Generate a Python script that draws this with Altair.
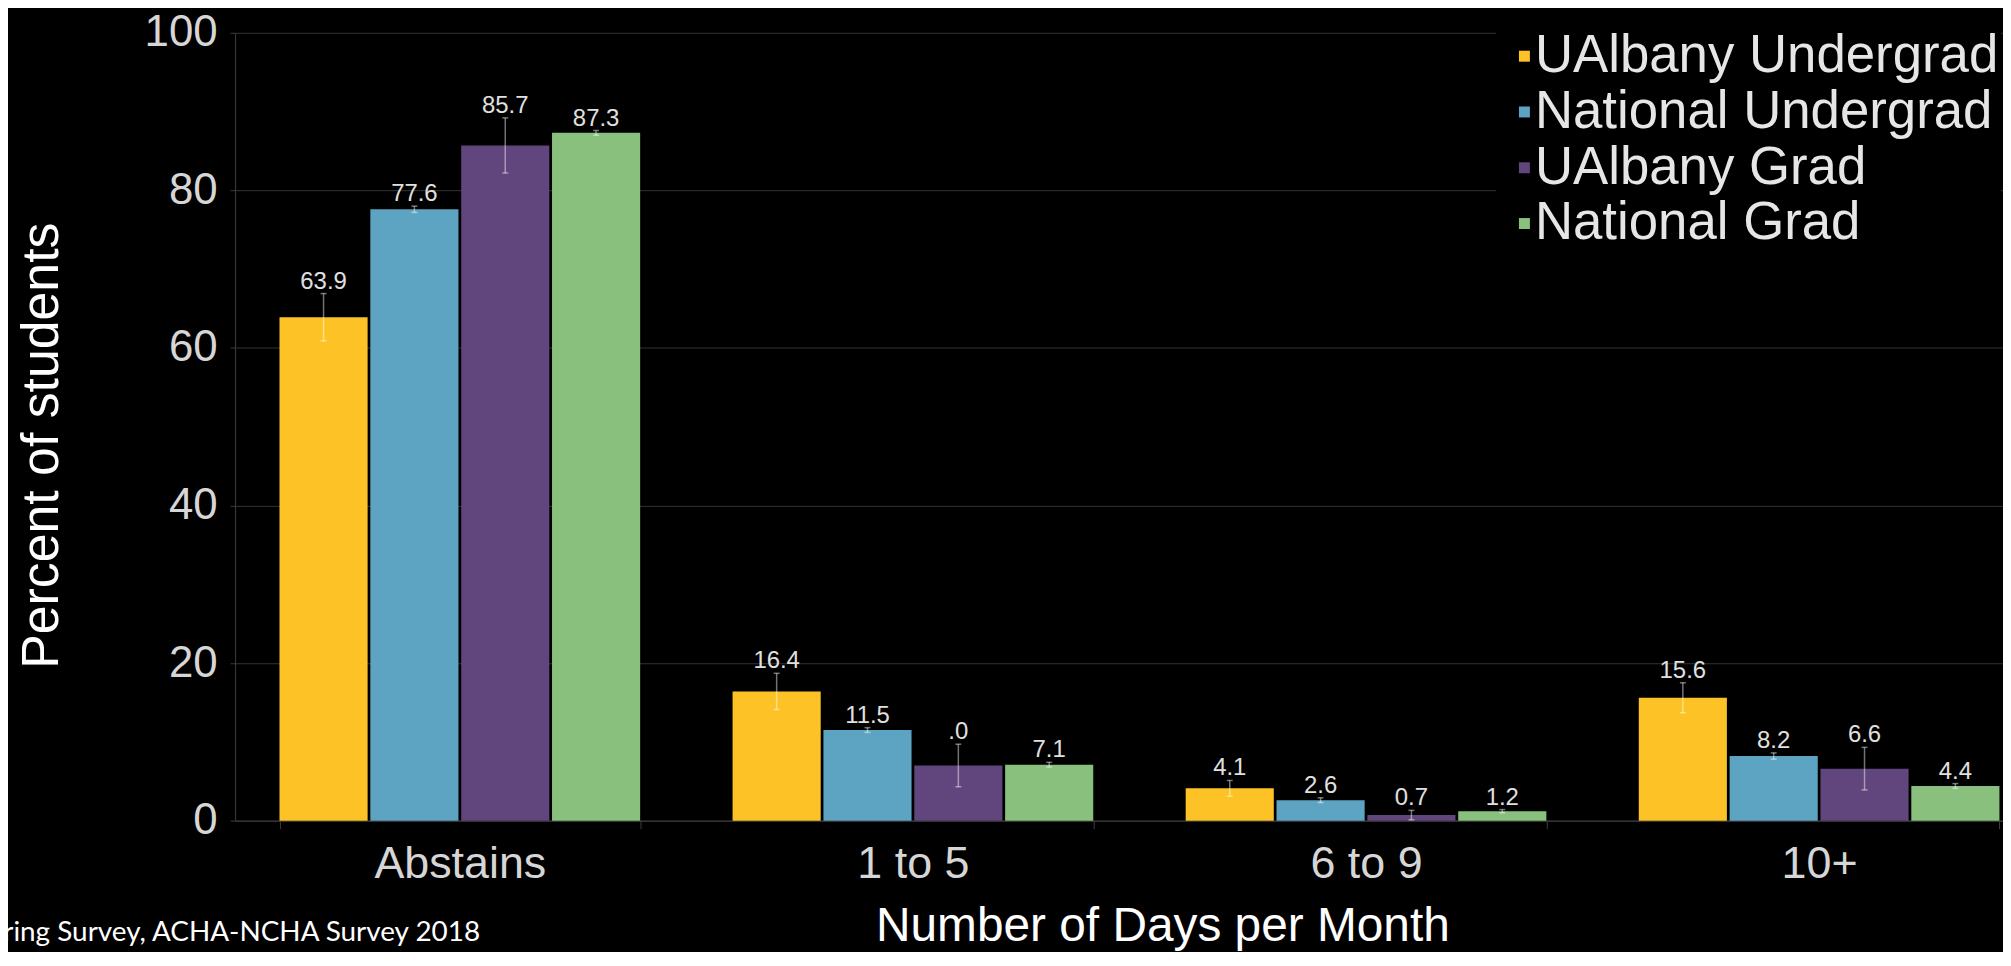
import altair as alt
import pandas as pd

categories = ["Abstains", "1 to 5", "6 to 9", "10+"]
groups = ["UAlbany Undergrad", "National Undergrad", "UAlbany Grad", "National Grad"]
colors = ["#FDC326", "#5CA4C2", "#60467C", "#89C07E"]

ualbany_ug = [63.9, 16.4, 4.1, 15.6]
national_ug = [77.6, 11.5, 2.6, 8.2]
ualbany_grad = [85.7, 7.0, 0.7, 6.6]
national_grad = [87.3, 7.1, 1.2, 4.4]

ualbany_ug_err = [3.0, 2.3, 1.0, 1.9]
national_ug_err = [0.4, 0.3, 0.3, 0.4]
ualbany_grad_err = [3.5, 2.7, 0.6, 2.7]
national_grad_err = [0.3, 0.3, 0.2, 0.3]

ualbany_ug_labels = ["63.9", "16.4", "4.1", "15.6"]
national_ug_labels = ["77.6", "11.5", "2.6", "8.2"]
ualbany_grad_labels = ["85.7", ".0", "0.7", "6.6"]
national_grad_labels = ["87.3", "7.1", "1.2", "4.4"]

y_ticks = [0, 20, 40, 60, 80, 100]
source_text = "ring Survey, ACHA-NCHA Survey 2018"

series = [
    (groups[0], ualbany_ug, ualbany_ug_err, ualbany_ug_labels),
    (groups[1], national_ug, national_ug_err, national_ug_labels),
    (groups[2], ualbany_grad, ualbany_grad_err, ualbany_grad_labels),
    (groups[3], national_grad, national_grad_err, national_grad_labels),
]
rows = []
for g, vals, errs, labs in series:
    for c, v, e, l in zip(categories, vals, errs, labs):
        rows.append({"cat": c, "grp": g, "val": v, "lo": max(v - e, 0), "hi": v + e, "lab": l})
df = pd.DataFrame(rows)

FONT = "Liberation Sans, Arial, sans-serif"

x_enc = alt.X(
    "cat:N",
    sort=categories,
    scale=alt.Scale(domain=categories, range=[0, 1816], paddingInner=0.204, paddingOuter=0.098),
    axis=alt.Axis(
        title="Number of Days per Month",
        labelAngle=0,
        labelFontSize=45,
        labelColor="#d6d6d6",
        labelFont=FONT,
        labelPadding=13,
        tickBand="extent",
        tickSize=8,
        tickColor="#3d3d3d",
        domainColor="#3d3d3d",
        grid=False,
        titleFontSize=48,
        titleFont=FONT,
        titleFontWeight="normal",
        titleColor="#ffffff",
        titleX=931,
        titleY=120,
        titleBaseline="alphabetic",
    ),
)
xoff = alt.XOffset("grp:N", sort=groups, scale=alt.Scale(domain=groups, paddingInner=0.03, paddingOuter=0))
y_enc = alt.Y(
    "val:Q",
    scale=alt.Scale(domain=[0, 100], nice=False),
    axis=alt.Axis(
        values=y_ticks,
        title="Percent of students",
        labelFontSize=44,
        labelColor="#d6d6d6",
        labelFont=FONT,
        labelPadding=13,
        tickSize=5,
        tickColor="#3d3d3d",
        domainColor="#3d3d3d",
        gridColor="#333333",
        gridWidth=1,
        titleFontSize=52,
        titleFont=FONT,
        titleFontWeight="normal",
        titleColor="#ffffff",
        titleAngle=270,
        titleX=-178,
        titleY=414,
        titleBaseline="alphabetic",
        titleAlign="center",
    ),
)
color_enc = alt.Color(
    "grp:N",
    sort=groups,
    scale=alt.Scale(domain=groups, range=colors),
    legend=alt.Legend(
        title=None,
        orient="none",
        legendX=1266,
        legendY=-5,
        fillColor="#000000",
        padding=2,
        symbolType="square",
        symbolSize=121,
        symbolStrokeWidth=0,
        symbolOpacity=1,
        labelFontSize=53,
        labelFont=FONT,
        labelColor="#e6e6e6",
        labelLimit=0,
        labelOffset={"expr": "-16"},
        rowPadding=2,
    ),
)

base = alt.Chart(df)

bars = base.mark_bar().encode(x=x_enc, xOffset=xoff, y=y_enc, color=color_enc)

err = base.mark_rule(color="#ffffff", opacity=0.45, strokeWidth=1.5).encode(
    x=alt.X("cat:N", sort=categories), xOffset=alt.XOffset("grp:N", sort=groups),
    y=alt.Y("lo:Q"), y2="hi:Q"
)
cap_hi = base.mark_tick(color="#ffffff", opacity=0.45, size=6, thickness=1.5, orient="horizontal").encode(
    x=alt.X("cat:N", sort=categories), xOffset=alt.XOffset("grp:N", sort=groups), y=alt.Y("hi:Q")
)
cap_lo = base.mark_tick(color="#ffffff", opacity=0.45, size=6, thickness=1.5, orient="horizontal").encode(
    x=alt.X("cat:N", sort=categories), xOffset=alt.XOffset("grp:N", sort=groups), y=alt.Y("lo:Q")
)
labels = base.mark_text(
    fontSize=24, font=FONT, color="#e0e0e0", baseline="alphabetic", dy=-5
).encode(
    x=alt.X("cat:N", sort=categories), xOffset=alt.XOffset("grp:N", sort=groups),
    y=alt.Y("hi:Q"), text="lab:N"
)

src = alt.Chart(pd.DataFrame({"t": [source_text]})).mark_text(
    align="right", baseline="alphabetic", fontSize=28, font="Lato, Open Sans, sans-serif", color="#ffffff"
).encode(x=alt.value(246), y=alt.value(912), text="t:N")

chart = (
    alt.layer(bars, err, cap_hi, cap_lo, labels, src)
    .properties(
        width=1775,
        height=791,
        background="#000000",
        padding={"left": 228, "top": 23, "right": 0, "bottom": 130},
        autosize=alt.AutoSizeParams(type="none"),
    )
    .configure_view(stroke=None)
)

chart.save("out.html", embed_options={"renderer": "svg", "actions": False})
